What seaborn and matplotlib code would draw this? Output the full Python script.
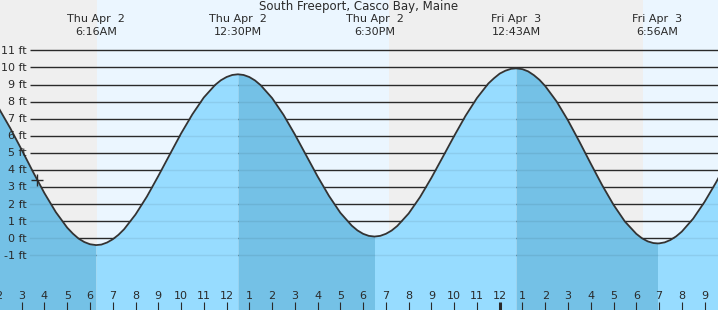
import matplotlib
matplotlib.use("Agg")
import matplotlib.pyplot as plt
import seaborn as sns
import pandas as pd
from matplotlib.transforms import offset_copy

# ---------------- data (hours since Thu Apr 2 00:00) ----------------
title = "South Freeport, Casco Bay, Maine"
hours = [2.0, 2.5, 3.0, 3.5, 4.0, 4.5, 5.0, 5.25, 5.5, 5.75, 6.0, 6.267, 6.5,
         6.75, 7.0, 7.25, 7.5, 8.0, 8.5, 9.0, 9.5, 10.0, 10.5, 11.0, 11.5,
         11.75, 12.0, 12.25, 12.5, 12.75, 13.0, 13.25, 13.5, 14.0, 14.5, 15.0,
         15.5, 16.0, 16.5, 17.0, 17.5, 17.75, 18.0, 18.25, 18.5, 18.75, 19.0,
         19.25, 19.5, 20.0, 20.5, 21.0, 21.5, 22.0, 22.5, 23.0, 23.5, 23.75,
         24.0, 24.25, 24.5, 24.717, 25.0, 25.25, 25.5, 25.75, 26.0, 26.5, 27.0,
         27.5, 28.0, 28.5, 29.0, 29.5, 30.0, 30.25, 30.5, 30.75, 30.933, 31.0,
         31.25, 31.5, 31.75, 32.0, 32.5, 33.0, 33.5, 34.0]
heights = [7.60, 6.44, 5.18, 3.88, 2.64, 1.53, 0.62, 0.27, -0.02, -0.22, -0.35,
           -0.40, -0.37, -0.25, -0.06, 0.20, 0.53, 1.39, 2.44, 3.64, 4.89, 6.13,
           7.26, 8.24, 8.98, 9.25, 9.44, 9.56, 9.60, 9.56, 9.44, 9.24, 8.96,
           8.21, 7.23, 6.08, 4.85, 3.62, 2.48, 1.49, 0.74, 0.46, 0.26, 0.14,
           0.10, 0.14, 0.26, 0.45, 0.72, 1.45, 2.41, 3.54, 4.76, 5.99, 7.17,
           8.21, 9.06, 9.37, 9.64, 9.81, 9.92, 9.95, 9.90, 9.77, 9.55, 9.27,
           8.91, 8.01, 6.90, 5.66, 4.37, 3.11, 1.96, 0.98, 0.26, 0.00, -0.18,
           -0.28, -0.30, -0.30, -0.24, -0.10, 0.11, 0.39, 1.15, 2.13, 3.26, 4.49]
event_times = [6.267, 12.5, 18.5, 24.717, 30.933]
event_days = ["Thu Apr  2", "Thu Apr  2", "Thu Apr  2", "Fri Apr  3", "Fri Apr  3"]
event_clock = ["6:16AM", "12:30PM", "6:30PM", "12:43AM", "6:56AM"]
sunrise_times = [6.31, 30.30]
sunset_times = [19.14]
feet_ticks = [-1, 0, 1, 2, 3, 4, 5, 6, 7, 8, 9, 10, 11]
hour_ticks = list(range(2, 34))
now_time, now_height = 3.69, 3.40

df = pd.DataFrame({"hour": hours, "height": heights})

# ---------------- figure ----------------
W, H = 718, 310
fig = plt.figure(figsize=(W / 100, H / 100), dpi=100)
ax = fig.add_axes([0, 0, 1, 1])
XMIN, XMAX = 2.047, 33.59
YMIN, YMAX = -4.20, 13.95

NIGHT = "#efefef"
DAY = "#ebf6ff"
FILL_LIGHT = "#97dcff"
FILL_DARK = "#74c1e6"
INK = "#2a2a2a"

# day / night background
ax.axvspan(XMIN - 1, sunrise_times[0], color=NIGHT, lw=0, zorder=0)
ax.axvspan(sunrise_times[0], sunset_times[0], color=DAY, lw=0, zorder=0)
ax.axvspan(sunset_times[0], sunrise_times[1], color=NIGHT, lw=0, zorder=0)
ax.axvspan(sunrise_times[1], XMAX + 1, color=DAY, lw=0, zorder=0)

# grid lines
ytr = ax.get_yaxis_transform()
for f in feet_ticks:
    ax.plot([30 / W, 1.0], [f, f], color=INK, lw=1.0, transform=ytr, zorder=1,
            solid_capstyle="butt")

# water fill, alternating between tide events
t = df["hour"]
bounds = [XMIN - 5] + event_times + [XMAX + 5]
for i in range(len(bounds) - 1):
    col = FILL_DARK if i % 2 == 0 else FILL_LIGHT
    ax.fill_between(df["hour"], df["height"], YMIN - 1,
                    where=(t >= bounds[i]) & (t <= bounds[i + 1]),
                    color=col, lw=0, zorder=2)

# faint grid lines seen through the water
clip = ax.fill_between(df["hour"], df["height"], YMIN - 1, color="none", lw=0)
clip_path = clip.get_paths()[0]
for f in feet_ticks:
    ln, = ax.plot([30 / W, 1.0], [f, f], color="#000000", alpha=0.07, lw=1.0,
                  transform=ytr, zorder=3)
    ln.set_clip_path(clip_path, ax.transData)

# tide curve
sns.lineplot(data=df, x="hour", y="height", color="#333333", lw=1.3,
             ax=ax, zorder=4, sort=True)
ax.set_xlim(XMIN, XMAX)
ax.set_ylim(YMIN, YMAX)
ax.axis("off")

# current-time marker
ax.plot([now_time], [now_height], marker="+", ms=9, mew=1.0, color=INK, zorder=5)

FONT = "DejaVu Sans"
FS = 8

# foot labels
lab_tr = offset_copy(ytr, fig=fig, x=0, y=-3.4, units="dots")
for f in feet_ticks:
    ax.text(27 / W, f, f"{f} ft", ha="right", va="baseline", fontsize=FS,
            family=FONT, color=INK, transform=lab_tr, zorder=6)

# hour labels and ticks
xtr = ax.get_xaxis_transform()
for h in hour_ticks:
    lab = str(h % 12 or 12)
    ax.text(h, 1 - 299.3 / H, lab, ha="center", va="baseline", fontsize=FS,
            family=FONT, color=INK, transform=xtr, zorder=6)
    ax.plot([h, h], [0, 8 / H], color=INK, lw=(2.2 if h == 24 else 0.8),
            transform=xtr, zorder=6, solid_capstyle="butt")

# title and tide-event labels
fig.text(0.5, 1 - 10.3 / H, title, ha="center", va="baseline", fontsize=8.5,
         family=FONT, color=INK)
for et, d, c in zip(event_times, event_days, event_clock):
    ax.text(et, 1 - 21.7 / H, d, ha="center", va="baseline", fontsize=FS,
            family=FONT, color=INK, transform=xtr, zorder=6)
    ax.text(et, 1 - 34.7 / H, c, ha="center", va="baseline", fontsize=FS,
            family=FONT, color=INK, transform=xtr, zorder=6)

fig.savefig("out.png", dpi=100)
